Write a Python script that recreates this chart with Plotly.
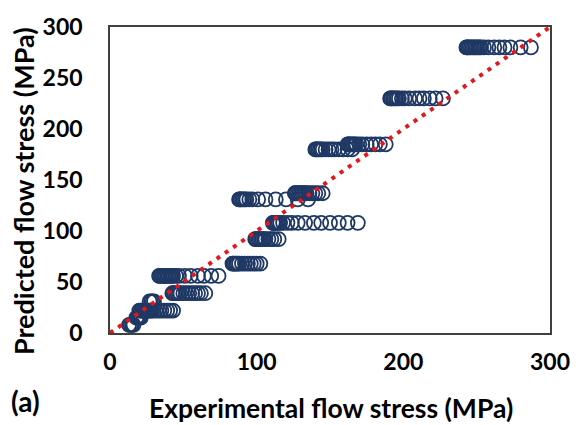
import plotly.graph_objects as go

# Predicted flow stress level of each horizontal cluster (MPa)
cluster_pred = [8, 15, 22, 31, 39, 56, 68, 92, 108, 131, 137, 180, 185, 230, 280]

# Experimental flow stress values in each cluster (MPa)
cluster_exp = [
    [13, 14, 15, 16],
    [18, 19, 20, 21],
    [20, 21, 22, 23, 24, 25, 26, 27, 28, 29, 31, 33, 35, 37, 39, 41, 43],
    [27, 28, 29, 30],
    [42.5, 43, 44, 45, 46, 47, 48, 50, 52, 54, 56, 58, 60, 62, 65],
    [33.5, 34, 35, 36, 37, 38, 39, 40, 41, 42, 43, 45, 47, 51, 55, 60, 64, 69, 74],
    [83.5, 84, 85, 86, 87, 88, 90, 92, 94, 96, 98, 100, 102.5],
    [99, 99.5, 100, 101, 102, 103, 104, 105, 106, 108, 110, 112, 115],
    [111, 111.5, 112, 113, 114, 115, 116, 118, 121, 124, 128, 133, 139, 144, 150, 156, 162, 169],
    [88, 88.5, 89, 90, 91, 92, 93, 95, 97, 101, 106, 113, 120, 128, 135],
    [126, 126.5, 127, 128, 129, 130, 131, 132, 133, 134, 136, 138, 140, 142, 145],
    [140, 140.5, 141, 142, 143, 144, 145, 147, 149, 151, 153, 156, 159, 162, 165],
    [162, 162.5, 163, 164, 165, 166, 167, 168, 170, 172, 175, 178, 181, 184, 188],
    [191, 191.5, 192, 193, 194, 195, 196, 197, 199, 201, 204, 208, 211, 214, 218, 222, 227],
    [243, 243.5, 244, 245, 246, 247, 248, 249, 250, 251, 252, 253, 255, 258, 262, 265.5, 269, 273, 280, 287],
]

ideal_line = [0, 300]
x_ticks = [0, 100, 200, 300]
y_ticks = [0, 50, 100, 150, 200, 250, 300]

xs, ys = [], []
for p, exps in zip(cluster_pred, cluster_exp):
    for e in exps:
        xs.append(e)
        ys.append(p)

FONT = "Lato"
fig = go.Figure()
fig.add_trace(go.Scatter(
    x=xs, y=ys, mode="markers",
    marker=dict(symbol="circle-open", size=14, color="#1F3864",
                line=dict(width=1.8, color="#1F3864")),
    showlegend=False, hoverinfo="skip"))
fig.add_trace(go.Scatter(
    x=ideal_line, y=ideal_line, mode="lines",
    line=dict(color="#E3171C", width=4, dash="4px,6px"),
    showlegend=False, hoverinfo="skip"))

axis_common = dict(
    showgrid=False, zeroline=False, showline=True, mirror=True,
    linecolor="#404040", linewidth=1.5, ticks="",
    tickfont=dict(family=FONT, size=23, color="black", weight=700),
)
fig.update_layout(
    width=582, height=425,
    margin=dict(l=110, r=22, t=22, b=92),
    paper_bgcolor="white", plot_bgcolor="white",
    xaxis=dict(range=[0, 300], tickvals=x_ticks, ticklabelstandoff=8, **axis_common),
    yaxis=dict(range=[0, 300], tickvals=y_ticks, ticklabelstandoff=21, **axis_common),
    annotations=[
        dict(text="Experimental flow stress (MPa)", xref="paper", yref="paper",
             x=0.502, y=-0.244, xanchor="center", yanchor="middle", showarrow=False,
             font=dict(family=FONT, size=26.5, color="black", weight=700)),
        dict(text="Predicted flow stress (MPa)", xref="paper", yref="paper",
             x=-0.196, y=0.463, xanchor="center", yanchor="middle", showarrow=False,
             textangle=-90,
             font=dict(family=FONT, size=27, color="black", weight=700)),
        dict(text="(a)", xref="paper", yref="paper",
             x=-0.193, y=-0.222, xanchor="center", yanchor="middle", showarrow=False,
             font=dict(family=FONT, size=28, color="black", weight=700)),
    ],
)
fig.write_html("out.html")
